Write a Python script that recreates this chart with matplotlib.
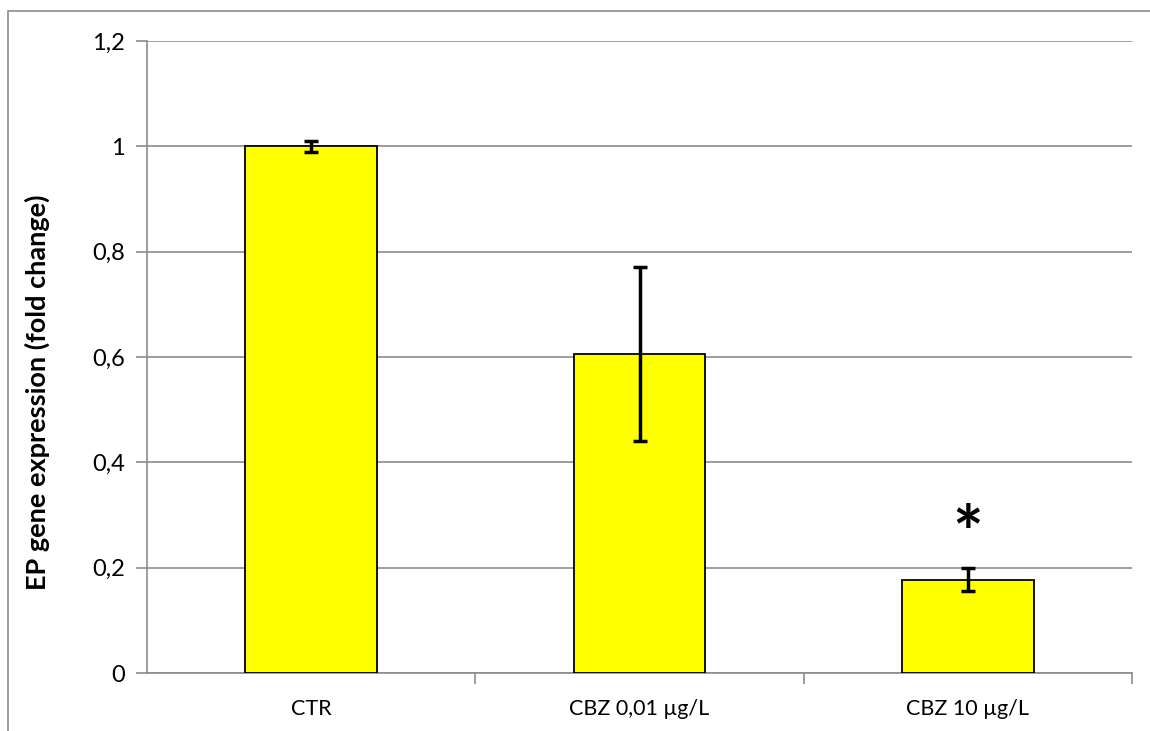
import matplotlib.pyplot as plt
from matplotlib.patches import Rectangle

# values
groups = ["CTR", "CBZ 0,01 µg/L", "CBZ 10 µg/L"]
fold_change = [1.0, 0.605, 0.177]
errors = [0.01, 0.165, 0.022]
yticks = [0, 0.2, 0.4, 0.6, 0.8, 1.0, 1.2]
ytick_labels = ["0", "0,2", "0,4", "0,6", "0,8", "1", "1,2"]

plt.rcParams['font.family'] = ['Lato', 'DejaVu Sans']

fig = plt.figure(figsize=(11.5, 7.31), dpi=100)
ax = fig.add_axes([147 / 1150, 1 - 673 / 731, (1132 - 147) / 1150, (673 - 41) / 731])

# chart area border like the Excel frame
fig.patches.append(Rectangle((8 / 1150, -0.1), 1.2, 1 - 11 / 731 + 0.1,
                             transform=fig.transFigure, fill=False,
                             edgecolor='#8c8c8c', linewidth=1.2))

x = range(len(groups))
ax.bar(x, fold_change, width=0.4, color='#ffff00', edgecolor='black',
       linewidth=1.3, zorder=3)
ax.errorbar(x, fold_change, yerr=errors, fmt='none', ecolor='black',
            elinewidth=2.5, capsize=5, capthick=2.5, zorder=4)

ax.set_xlim(-0.5, 2.5)
ax.set_ylim(0, 1.2)
ax.set_yticks(yticks)
ax.set_yticklabels(ytick_labels, fontsize=17)
ax.yaxis.grid(True, color='#8c8c8c', linewidth=1.2, zorder=0)

ax.set_xticks([0.5, 1.5, 2.5], minor=False)
ax.set_xticklabels([])
ax.set_xticks(list(x), minor=True)
ax.set_xticklabels(groups, minor=True, fontsize=15.5)
ax.tick_params(axis='x', which='minor', length=0, pad=19)
ax.tick_params(axis='x', which='major', length=8, color='#8c8c8c', width=1.2)
ax.tick_params(axis='y', length=8, color='#8c8c8c', width=1.2, pad=8)

for side in ['top', 'right']:
    ax.spines[side].set_visible(False)
for side in ['left', 'bottom']:
    ax.spines[side].set_color('#8c8c8c')
    ax.spines[side].set_linewidth(1.2)

ax.set_ylabel("EP gene expression (fold change)", fontsize=19.5,
              fontweight='bold')
ax.yaxis.set_label_coords(-0.098, 0.445)

ax.text(2, 0.255, "*", ha='center', va='center', fontsize=52, fontweight='bold')

fig.savefig("out.png", dpi=100)
